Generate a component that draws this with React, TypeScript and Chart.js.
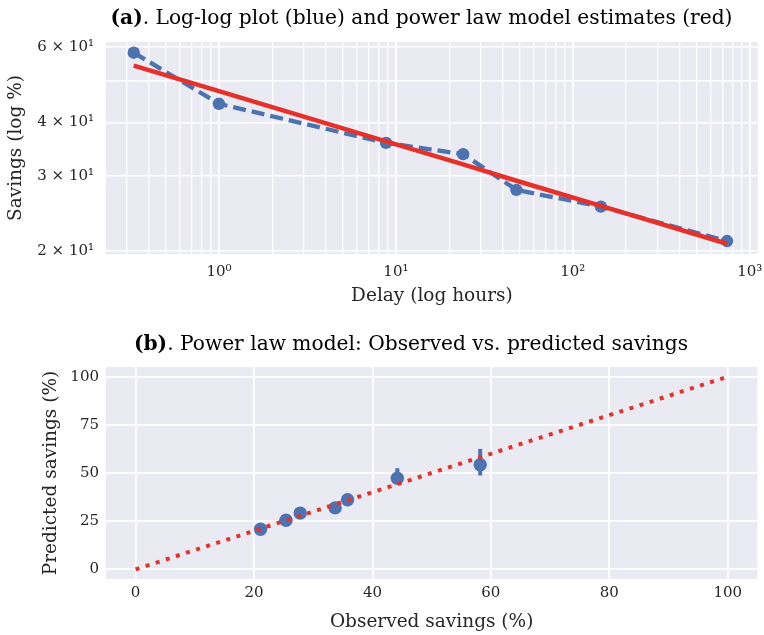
import React, { useEffect, useRef } from 'react';
import { Chart, registerables } from 'chart.js';
Chart.register(...registerables);

// ---------- data ----------
const delayHours = [0.33, 1, 8.8, 24, 48, 144, 744];
const observedSavings = [58.2, 44.2, 35.8, 33.7, 27.8, 25.4, 21.1];
const predictedSavings = [54.3, 47.3, 36.1, 31.9, 29.2, 25.5, 20.8];
const predictedLow = [48.7, 44.3, 34.6, 30.6, 27.9, 24.2, 19.6];
const predictedHigh = [62.5, 52.5, 37.8, 33.3, 30.6, 26.9, 22.1];

const delayMajorTicks = [1, 10, 100, 1000];
const delayMajorLabels = ['10⁰', '10¹', '10²', '10³'];
const delayDecades = [0.1, 1, 10, 100];
const minorMultipliers = [2, 3, 4, 5, 6, 7, 8, 9];
const savingsLogTicks = [20, 30, 40, 50, 60];
const savingsLogLabels = ['2 × 10¹', '3 × 10¹', '4 × 10¹', '', '6 × 10¹'];
const identityLine = [0, 100];
const observedTicks = [0, 20, 40, 60, 80, 100];
const predictedTicks = [0, 25, 50, 75, 100];

// ---------- style ----------
const FONT = "'DejaVu Serif', serif";
const BLUE = '#4C72B0';
const RED = '#E5312A';
const BG = '#EAEAF2';
const TXT = '#262626';
const W = 764;
const H1 = 317;
const H2 = 318;

const X_MIN = 0.23, X_MAX = 1110;
const delayAllTicks = [
  ...delayDecades.flatMap((d) => [d, ...minorMultipliers.map((m) => d * m)]),
  1000,
].filter((v) => v >= X_MIN && v <= X_MAX);

const near = (a: number, b: number) => Math.abs(a - b) / Math.abs(b) < 1e-6;

const bgPlugin = {
  id: 'bgArea',
  beforeDraw(chart: any) {
    const { ctx, chartArea: a } = chart;
    ctx.save();
    ctx.fillStyle = BG;
    ctx.fillRect(a.left, a.top, a.right - a.left, a.bottom - a.top);
    ctx.restore();
  },
};

const makeTitle = (bold: string, rest: string, cx: number, cy: number, size: number) => ({
  id: 'mixedTitle',
  afterDraw(chart: any) {
    const ctx = chart.ctx;
    ctx.save();
    ctx.textBaseline = 'middle';
    ctx.fillStyle = '#000';
    ctx.font = `bold ${size}px ${FONT}`;
    const wb = ctx.measureText(bold).width;
    ctx.font = `${size}px ${FONT}`;
    const wr = ctx.measureText(rest).width;
    const x0 = cx - (wb + wr) / 2;
    ctx.font = `bold ${size}px ${FONT}`;
    ctx.fillText(bold, x0, cy);
    ctx.font = `${size}px ${FONT}`;
    ctx.fillText(rest, x0 + wb, cy);
    ctx.restore();
  },
});

const errorBarPlugin = {
  id: 'errorBars',
  beforeDatasetsDraw(chart: any) {
    const { ctx, scales } = chart;
    ctx.save();
    ctx.strokeStyle = BLUE;
    ctx.lineWidth = 4;
    observedSavings.forEach((o, i) => {
      const x = scales.x.getPixelForValue(o);
      ctx.beginPath();
      ctx.moveTo(x, scales.y.getPixelForValue(predictedLow[i]));
      ctx.lineTo(x, scales.y.getPixelForValue(predictedHigh[i]));
      ctx.stroke();
    });
    ctx.restore();
  },
};

const tickFont = { family: FONT, size: 15 };
const titleFont = { family: FONT, size: 18.5 };

function TopChart() {
  const ref = useRef<HTMLCanvasElement>(null);
  useEffect(() => {
    const chart = new Chart(ref.current as HTMLCanvasElement, {
      type: 'scatter',
      data: {
        datasets: [
          {
            data: delayHours.map((x, i) => ({ x, y: predictedSavings[i] })),
            showLine: true,
            borderColor: RED,
            borderWidth: 4.5,
            pointRadius: 0,
            order: 0,
          },
          {
            data: delayHours.map((x, i) => ({ x, y: observedSavings[i] })),
            showLine: true,
            borderColor: BLUE,
            borderWidth: 4.3,
            borderDash: [13, 6],
            pointRadius: 6.2,
            pointBackgroundColor: BLUE,
            pointBorderWidth: 0,
            order: 1,
          },
        ],
      },
      options: {
        animation: false,
        responsive: false,
        events: [],
        layout: { padding: { top: 42, right: 6, left: 0, bottom: 0 } },
        plugins: { legend: { display: false }, tooltip: { enabled: false } },
        scales: {
          x: {
            type: 'logarithmic',
            min: X_MIN,
            max: X_MAX,
            afterBuildTicks: (s: any) => {
              s.ticks = delayAllTicks.map((v) => ({ value: v }));
            },
            afterFit: (s: any) => {
              s.height = H1 - 254;
              s.paddingLeft = 0;
              s.paddingRight = 0;
            },
            ticks: {
              autoSkip: false,
              maxRotation: 0,
              padding: 9,
              color: TXT,
              font: tickFont,
              callback: (v: any) => {
                const i = delayMajorTicks.findIndex((m) => near(Number(v), m));
                return i >= 0 ? delayMajorLabels[i] : '';
              },
            },
            grid: {
              color: '#ffffff',
              drawTicks: false,
              lineWidth: (c: any) =>
                c.tick && delayMajorTicks.some((m) => near(c.tick.value, m)) ? 1.8 : 1.3,
            },
            border: { display: false },
            title: {
              display: true,
              text: 'Delay (log hours)',
              color: TXT,
              font: titleFont,
              padding: { top: 0, bottom: 9.5 },
            },
          },
          y: {
            type: 'logarithmic',
            min: 19.68,
            max: 61.65,
            afterBuildTicks: (s: any) => {
              s.ticks = savingsLogTicks.map((v) => ({ value: v }));
            },
            afterFit: (s: any) => {
              s.width = 106;
              s.paddingTop = 0;
              s.paddingBottom = 0;
            },
            ticks: {
              autoSkip: false,
              padding: 12,
              color: TXT,
              font: tickFont,
              callback: (v: any) => {
                const i = savingsLogTicks.findIndex((m) => near(Number(v), m));
                return i >= 0 ? savingsLogLabels[i] : '';
              },
            },
            grid: { color: '#ffffff', drawTicks: false, lineWidth: 1.6 },
            border: { display: false },
            title: {
              display: true,
              text: 'Savings (log %)',
              color: TXT,
              font: titleFont,
              padding: { top: 5, bottom: 0 },
            },
          },
        },
      } as any,
      plugins: [
        bgPlugin,
        makeTitle('(a)', '. Log-log plot (blue) and power law model estimates (red)', 421.5, 19, 20.2),
      ],
    });
    return () => chart.destroy();
  }, []);
  return <canvas ref={ref} width={W} height={H1} style={{ position: 'absolute', left: 0, top: 0 }} />;
}

function BottomChart() {
  const ref = useRef<HTMLCanvasElement>(null);
  useEffect(() => {
    const chart = new Chart(ref.current as HTMLCanvasElement, {
      type: 'scatter',
      data: {
        datasets: [
          {
            data: identityLine.map((v) => ({ x: v, y: v })),
            showLine: true,
            borderColor: RED,
            borderWidth: 4,
            borderDash: [4, 6.6],
            borderCapStyle: 'butt',
            pointRadius: 0,
            order: 0,
          },
          {
            data: observedSavings.map((x, i) => ({ x, y: predictedSavings[i] })),
            showLine: false,
            pointRadius: 6.7,
            pointBackgroundColor: BLUE,
            pointBorderWidth: 0,
            order: 1,
          },
        ],
      },
      options: {
        animation: false,
        responsive: false,
        events: [],
        layout: { padding: { top: 50, right: 6, left: 0, bottom: 0 } },
        plugins: { legend: { display: false }, tooltip: { enabled: false } },
        scales: {
          x: {
            type: 'linear',
            min: -5,
            max: 105,
            afterBuildTicks: (s: any) => {
              s.ticks = observedTicks.map((v) => ({ value: v }));
            },
            afterFit: (s: any) => {
              s.height = H2 - 262;
              s.paddingLeft = 0;
              s.paddingRight = 0;
            },
            ticks: { autoSkip: false, maxRotation: 0, padding: 5, color: TXT, font: tickFont },
            grid: { color: '#ffffff', drawTicks: false, lineWidth: 1.8 },
            border: { display: false },
            title: {
              display: true,
              text: 'Observed savings (%)',
              color: TXT,
              font: titleFont,
              padding: { top: 0, bottom: 2 },
            },
          },
          y: {
            type: 'linear',
            min: -5,
            max: 105,
            afterBuildTicks: (s: any) => {
              s.ticks = predictedTicks.map((v) => ({ value: v }));
            },
            afterFit: (s: any) => {
              s.width = 106;
              s.paddingTop = 0;
              s.paddingBottom = 0;
            },
            ticks: { autoSkip: false, padding: 7, color: TXT, font: tickFont },
            grid: { color: '#ffffff', drawTicks: false, lineWidth: 1.8 },
            border: { display: false },
            title: {
              display: true,
              text: 'Predicted savings (%)',
              color: TXT,
              font: titleFont,
              padding: { top: 40.5, bottom: 0 },
            },
          },
        },
      } as any,
      plugins: [
        bgPlugin,
        errorBarPlugin,
        makeTitle('(b)', '. Power law model: Observed vs. predicted savings', 411, 28, 20.2),
      ],
    });
    return () => chart.destroy();
  }, []);
  return <canvas ref={ref} width={W} height={H2} style={{ position: 'absolute', left: 0, top: H1 }} />;
}

export default function App() {
  useEffect(() => {
    document.body.style.margin = '0';
    document.body.style.overflow = 'hidden';
  }, []);
  return (
    <div style={{ position: 'absolute', left: 0, top: 0, width: W, height: H1 + H2, background: '#fff' }}>
      <TopChart />
      <BottomChart />
    </div>
  );
}
